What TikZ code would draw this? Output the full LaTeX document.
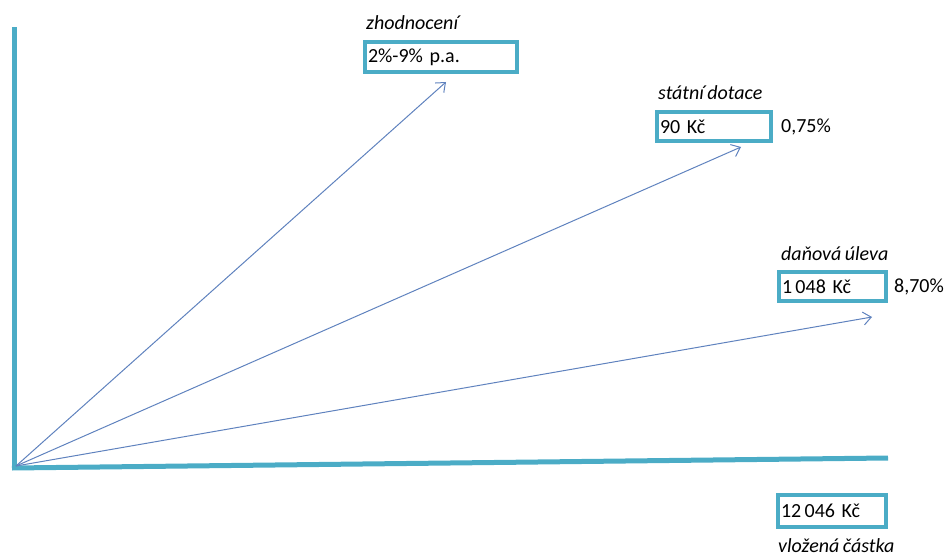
\documentclass[tikz,border=0pt]{standalone}
\usepackage{fontspec}
\setmainfont{Carlito}[WordSpace=0.75]
\usepackage{tikz}
\usetikzlibrary{arrows.meta,calc,positioning}
\usepackage{xcolor}
\definecolor{axis-teal}{RGB}{75,172,198}
\definecolor{arrow-blue}{RGB}{95,130,190}
\tikzstyle{axisline}=[line width=5pt, axis-teal]
\tikzstyle{ray}=[-{Straight Barb[length=8pt,width=13pt]}, arrow-blue, line width=1pt]
\tikzstyle{numbox}=[draw=axis-teal, line width=4pt, fill=white, inner sep=3pt, align=left, minimum height=30pt, font=\fontsize{20}{22}\selectfont]
\tikzstyle{tag}=[inner sep=0pt, font=\fontsize{20}{22}\selectfont\itshape]
\tikzstyle{pct}=[inner sep=0pt, font=\fontsize{20}{22}\selectfont]

\begin{document}
\begin{tikzpicture}[x=1pt,y=-1pt]
	\useasboundingbox (0,0) rectangle (950,556);
	\coordinate (O) at (16,466);
	\draw[axisline] (14,470) -- (14,27);
	\draw[axisline] (12,468) -- (888,458);
	\node[numbox, text width=146pt] (zhbox) at (441,57) {2\%-9\% p.a.};
	\node[numbox, text width=108pt, minimum height=29pt] (dotbox) at (714,126.5) {90 Kč};
	\node[numbox, text width=101pt, minimum height=29pt] (ulbox) at (832.5,286.5) {1\,048 Kč};
	\node[numbox, text width=102pt, minimum height=32pt] (vlbox) at (832,511) {12\,046 Kč};
	\node[tag, anchor=base west] (zhlab) at ([xshift=3pt,yshift=10pt]zhbox.north west) {zhodnocení};
	\node[tag, anchor=base west] (dotlab) at ([xshift=3pt,yshift=10pt]dotbox.north west) {státní dotace};
	\node[tag, anchor=base west] (ullab) at ([xshift=4pt,yshift=10pt]ulbox.north west) {daňová úleva};
	\node[tag, anchor=base west] (vllab) at ([xshift=2pt,yshift=-23pt]vlbox.south west) {vložená částka};
	\node[pct, anchor=west] (dotpct) at ([xshift=8pt]dotbox.east) {0,75\%};
	\node[pct, anchor=west] (ulpct) at ([xshift=6pt]ulbox.east) {8,70\%};
	\coordinate (zhend) at (446,82);
	\coordinate (dotend) at (741,147);
	\coordinate (ulend) at (872,317);
	\draw[ray] (O) -- (zhend);
	\draw[ray] (O) -- (dotend);
	\draw[ray] (O) -- (ulend);
\end{tikzpicture}
\end{document}
